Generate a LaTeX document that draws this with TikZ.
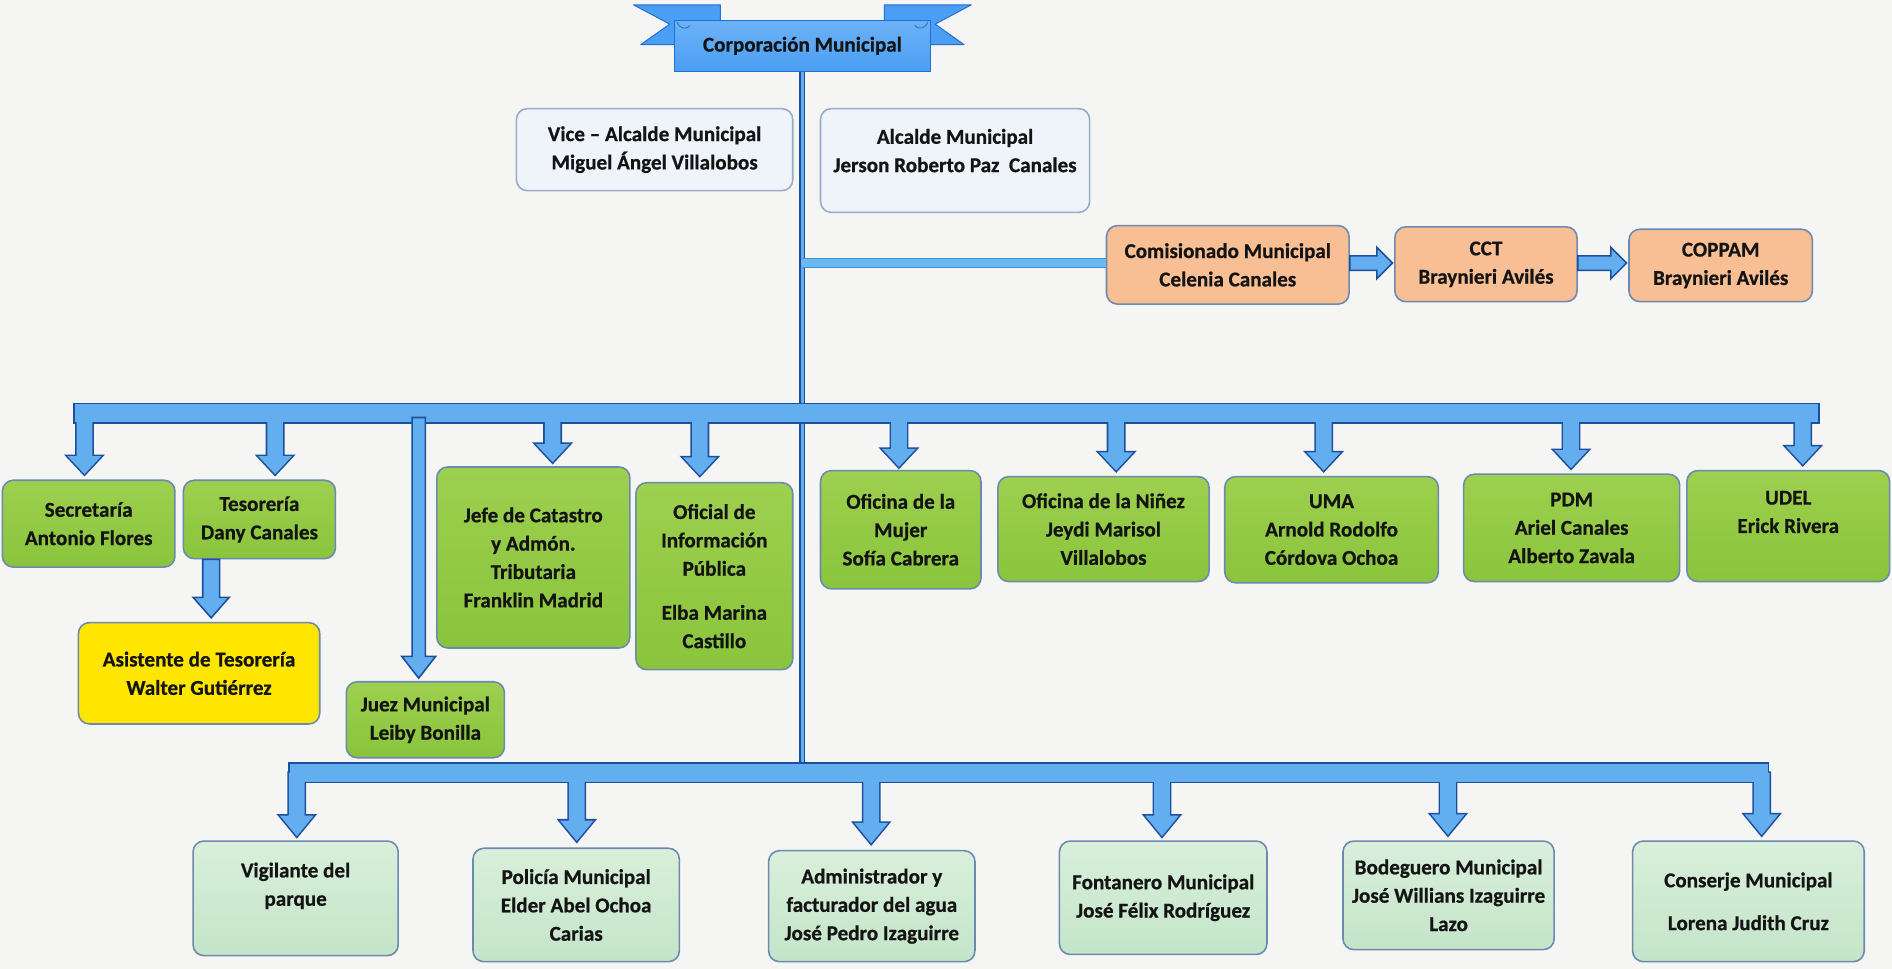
\documentclass[tikz,border=0pt]{standalone}
\usepackage{fontspec}
\setmainfont{Carlito}[BoldFeatures={FakeBold=0.7}]
\usetikzlibrary{calc}
\definecolor{busfill}{HTML}{62AEEF}
\definecolor{busline}{HTML}{1E4F9E}
\definecolor{branchfill}{HTML}{6CB8F0}
\definecolor{branchline}{HTML}{3D8FD6}
\definecolor{grn}{HTML}{8AC43C}
\definecolor{grntop}{HTML}{9DD04F}
\definecolor{pale}{HTML}{C4E5C9}
\definecolor{paletop}{HTML}{D9EFDB}
\definecolor{org}{HTML}{F8BE94}
\definecolor{yel}{HTML}{FFE600}
\definecolor{lblue}{HTML}{EEF4FA}
\definecolor{bline}{HTML}{6C89B0}
\definecolor{ribbon}{HTML}{4A9EF3}
\definecolor{ribbontop}{HTML}{6DB2F7}
\definecolor{ribbondk}{HTML}{2270D2}
\definecolor{paper}{HTML}{F5F5F3}
\definecolor{txt}{HTML}{141414}

\tikzset{
 box/.style={rounded corners=9pt, draw=bline, line width=1.3pt, align=center, inner sep=0pt, text=txt,
   font=\bfseries\fontsize{17.5}{23.5}\selectfont},
 greenbox/.style={box, top color=grntop, bottom color=grn},
 palebox/.style={box, top color=paletop, bottom color=pale},
 orangebox/.style={box, fill=org},
 yellowbox/.style={box, fill=yel},
 topbox/.style={box, fill=lblue, draw=bline!70},
 bannerbox/.style={draw=ribbondk, line width=0.8pt, top color=ribbontop, bottom color=ribbon, text=txt,
   font=\bfseries\fontsize{17.5}{20}\selectfont, inner sep=0pt},
 tail/.style={fill=ribbon, draw=ribbondk, line width=0.8pt, line join=round},
 busedge/.style={draw=busline, line width=2.6pt, line join=miter},
 busbody/.style={fill=busfill},
 busfull/.style={draw=busline, line width=1.3pt, fill=busfill},
}

% vertical block arrow: style, start coordinate (its y), tip coordinate, half shaft, half head, head length
\newcommand\dnarrow[6]{\path[#1] let \p1=(#2), \p2=(#3) in
  (\x2-#4,\y1) -- (\x2+#4,\y1) -- (\x2+#4,\y2+#6) -- (\x2+#5,\y2+#6) -- (\x2,\y2)
  -- (\x2-#5,\y2+#6) -- (\x2-#4,\y2+#6) -- cycle;}
% horizontal block arrow
\newcommand\rtarrow[6]{\path[#1] let \p1=(#2), \p2=(#3) in
  (\x1,\y2-#4) -- (\x2-#6,\y2-#4) -- (\x2-#6,\y2-#5) -- (\x2,\y2) -- (\x2-#6,\y2+#5)
  -- (\x2-#6,\y2+#4) -- (\x1,\y2+#4) -- cycle;}
% bus bar
\newcommand\busbar[4]{\path[#1] let \p1=(#2), \p2=(#3) in (\x1,\y1-#4) rectangle (\x2,\y1+#4);}

\begin{document}
\begin{tikzpicture}[x=1pt,y=-1pt]
\useasboundingbox (0,0) rectangle (1568,803);
\fill[paper] (0,0) rectangle (1568,803);

% ---------- banner ----------
\path[tail] (525,4) -- (597,4) -- (597,37) -- (531,37) -- (555,20) -- cycle;
\path[tail] (805,4) -- (733,4) -- (733,37) -- (799,37) -- (775,20) -- cycle;
\node[bannerbox, minimum width=212pt, minimum height=42pt] (corp) at (665,38) {Corporación Municipal};
\draw[ribbondk, line width=0.7pt] (561,18) .. controls (563,24) and (569,25) .. (572,21);
\draw[ribbondk, line width=0.7pt] (769,18) .. controls (767,24) and (761,25) .. (758,21);

% ---------- coordinates ----------
\coordinate (ubL) at (62,342.5);
\coordinate (ubR) at (1507,342.5);
\coordinate (lbL) at (240,640.5);
\coordinate (lbR) at (1465,640.5);
\coordinate (brS) at (665,218);

% ---------- trunk ----------
\draw[busline, line width=5pt] (corp.south) -- (corp.south |- lbL);
\draw[busfill, line width=2.4pt] (corp.south) -- (corp.south |- lbL);

% ---------- top boxes ----------
\node[topbox, minimum width=229pt, minimum height=68pt] (vice) at (542.5,124)
  {Vice – Alcalde Municipal\\Miguel Ángel Villalobos};
\node[topbox, minimum width=223pt, minimum height=86pt] (alc) at (791.5,133)
  {Alcalde Municipal\\Jerson Roberto Paz\ \ Canales\\[-7pt]\mbox{}};

\node[orangebox, minimum width=201pt, minimum height=65pt] (com) at (1017.5,219.5)
  {Comisionado Municipal\\Celenia Canales};
\node[orangebox, minimum width=151pt, minimum height=62pt] (cct) at (1231.5,219)
  {CCT\\Braynieri Avilés};
\node[orangebox, minimum width=152pt, minimum height=60pt] (cop) at (1426,220)
  {COPPAM\\Braynieri Avilés};

% side branch
\draw[branchline, line width=9pt] (brS) -- (brS -| com.west);
\draw[branchfill, line width=6pt] (brS) -- (brS -| com.west);

\coordinate (t-cct) at (1154,218);
\coordinate (t-cop) at (1348,218);
\rtarrow{busfull}{com.east}{t-cct}{6pt}{13pt}{13pt}
\rtarrow{busfull}{cct.east}{t-cop}{6pt}{13pt}{13pt}

% ---------- upper row ----------
\node[greenbox, minimum width=143pt, minimum height=72pt] (sec) at (73.5,434)
  {Secretaría\\Antonio Flores};
\node[greenbox, minimum width=126pt, minimum height=65pt] (tes) at (215,430.5)
  {Tesorería\\Dany Canales};
\node[yellowbox, minimum width=200pt, minimum height=84pt] (asi) at (165,558)
  {Asistente de Tesorería\\Walter Gutiérrez};
\node[greenbox, minimum width=131pt, minimum height=63pt] (jue) at (352.5,596.5)
  {Juez Municipal\\Leiby Bonilla};
\node[greenbox, minimum width=160pt, minimum height=150pt] (jef) at (442,462)
  {Jefe de Catastro\\y Admón.\\Tributaria\\Franklin Madrid};
\node[greenbox, minimum width=130pt, minimum height=155pt] (ofi) at (592,477.5)
  {Oficial de\\Información\\Pública\\[13pt]Elba Marina\\Castillo};
\node[greenbox, minimum width=133pt, minimum height=98pt] (muj) at (746.5,439)
  {Oficina de la\\Mujer\\Sofía Cabrera};
\node[greenbox, minimum width=175pt, minimum height=87pt] (nin) at (914.5,438.5)
  {Oficina de la Niñez\\Jeydi Marisol\\Villalobos};
\node[greenbox, minimum width=177pt, minimum height=88pt] (uma) at (1103.5,439)
  {UMA\\Arnold Rodolfo\\Córdova Ochoa};
\node[greenbox, minimum width=179pt, minimum height=89pt] (pdm) at (1302.5,437.5)
  {PDM\\Ariel Canales\\Alberto Zavala};
\node[greenbox, minimum width=168pt, minimum height=92pt] (ude) at (1482,436)
  {UDEL\\Erick Rivera\\\mbox{}};

\coordinate (t-sec) at (70,393);
\coordinate (t-tes) at (228,393);
\coordinate (t-jef) at (458,383);
\coordinate (t-ofi) at (580,394);
\coordinate (t-muj) at (745,387);
\coordinate (t-nin) at (925,390);
\coordinate (t-uma) at (1097,390);
\coordinate (t-pdm) at (1302,388);
\coordinate (t-ude) at (1494,385);
\coordinate (t-jue) at (347,562);
\coordinate (s-jue) at (347,346);
\coordinate (t-asi) at (175,512);

\busbar{busedge}{ubL}{ubR}{7.5pt}
\foreach \t in {sec,tes,jef,ofi,muj,nin,uma,pdm,ude}{\dnarrow{busedge}{ubL}{t-\t}{6.5pt}{14pt}{15pt}}
\busbar{busbody}{ubL}{ubR}{7.5pt}
\foreach \t in {sec,tes,jef,ofi,muj,nin,uma,pdm,ude}{\dnarrow{busbody}{ubL}{t-\t}{6.5pt}{14pt}{15pt}}

\dnarrow{busfull}{s-jue}{t-jue}{5.5pt}{14pt}{18pt}
\dnarrow{busfull}{tes.south}{t-asi}{7pt}{15pt}{17pt}

% ---------- lower row ----------
\node[palebox, minimum width=170pt, minimum height=95pt] (vig) at (245,744.5)
  {Vigilante del\\parque\\\mbox{}};
\node[palebox, minimum width=171pt, minimum height=94pt] (pol) at (477.5,750)
  {Policía Municipal\\Elder Abel Ochoa\\Carias};
\node[palebox, minimum width=171pt, minimum height=92pt] (adm) at (722.5,751)
  {Administrador y\\facturador del agua\\José Pedro Izaguirre};
\node[palebox, minimum width=172pt, minimum height=94pt] (fon) at (964,744)
  {Fontanero Municipal\\José Félix Rodríguez};
\node[palebox, minimum width=175pt, minimum height=90pt] (bod) at (1200.5,742)
  {Bodeguero Municipal\\José Willians Izaguirre\\Lazo};
\node[palebox, minimum width=192pt, minimum height=100pt] (con) at (1449,747)
  {Conserje Municipal\\[12pt]Lorena Judith Cruz};

\coordinate (t-vig) at (246,693);
\coordinate (t-pol) at (478,697);
\coordinate (t-adm) at (722,699);
\coordinate (t-fon) at (963,693);
\coordinate (t-bod) at (1200,692);
\coordinate (t-con) at (1460,692);

\busbar{busedge}{lbL}{lbR}{7.5pt}
\foreach \t in {vig,pol,adm,fon,bod,con}{\dnarrow{busedge}{lbL}{t-\t}{6.5pt}{14pt}{17pt}}
\busbar{busbody}{lbL}{lbR}{7.5pt}
\foreach \t in {vig,pol,adm,fon,bod,con}{\dnarrow{busbody}{lbL}{t-\t}{6.5pt}{14pt}{17pt}}
\end{tikzpicture}
\end{document}
